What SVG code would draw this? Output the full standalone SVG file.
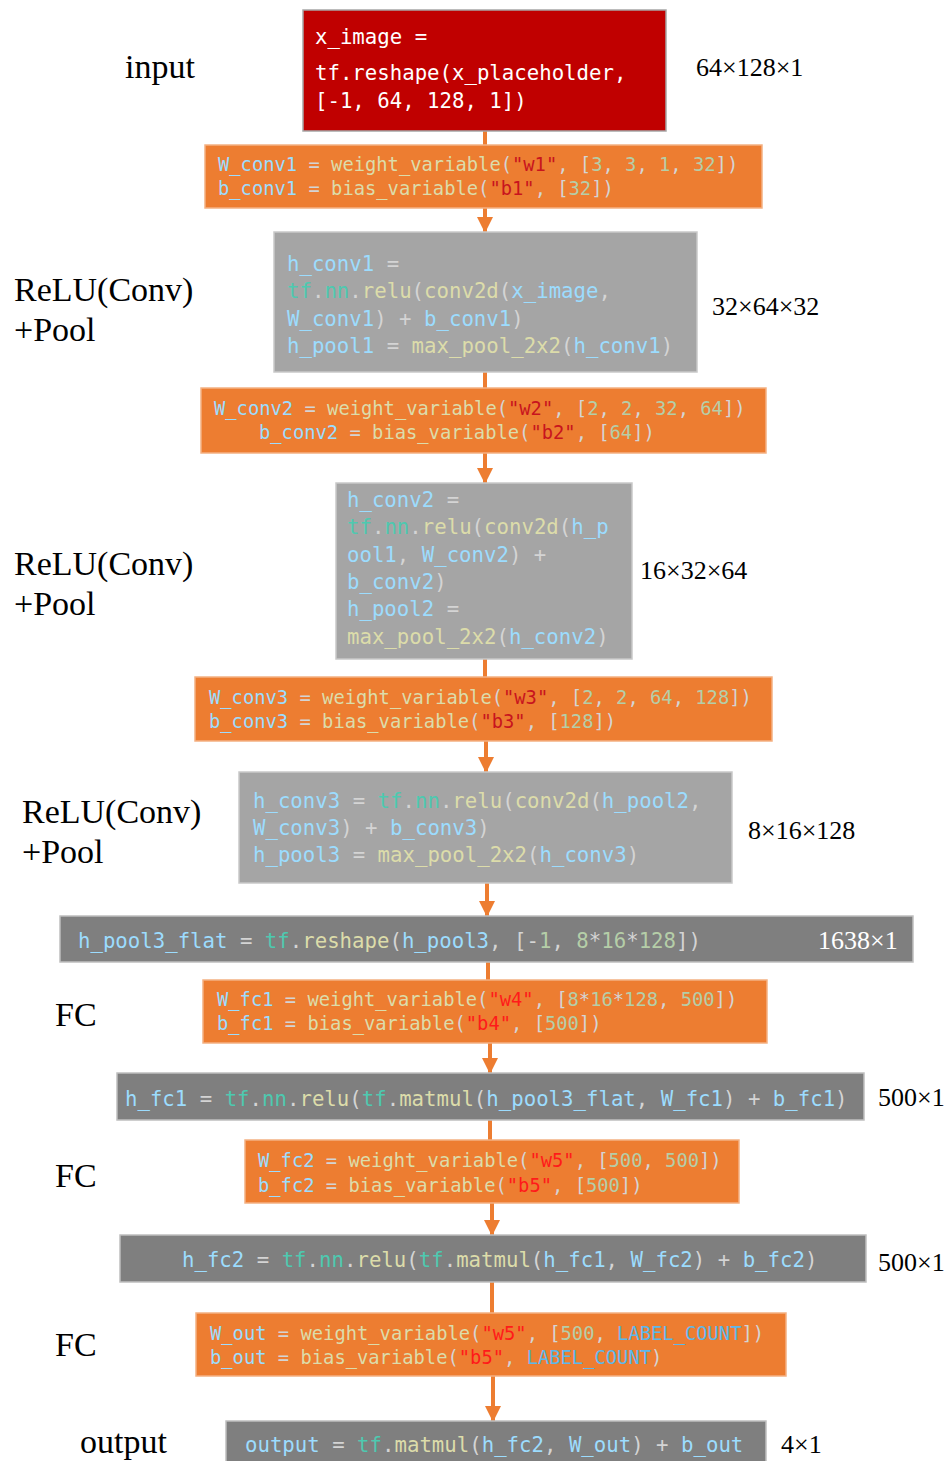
<svg xmlns="http://www.w3.org/2000/svg" width="947" height="1461" viewBox="0 0 947 1461">
<defs>
<marker id="arr" markerUnits="userSpaceOnUse" markerWidth="16" markerHeight="16" refX="15" refY="8" orient="auto" viewBox="0 0 16 16">
<path d="M0,0 L16,8 L0,16 z" fill="#ED7D31"/>
</marker>
<style>
.code{font-family:"DejaVu Sans Mono","Liberation Mono",monospace;white-space:pre}
.c19{font-size:18.8px}
.c21{font-size:20.7px}
.lbl{font-family:"Liberation Serif","Times New Roman",serif;font-size:34px;fill:#000}
.dim{font-family:"Liberation Serif","Times New Roman",serif;font-size:26px;fill:#000}
.red{fill:#C00000;stroke:#A6A6A6;stroke-width:1.5}
.org{fill:#ED7D31;stroke:#F4B183;stroke-width:1.5}
.lg{fill:#A5A5A5;stroke:#C9C9C9;stroke-width:1.5}
.dg{fill:#7F7F7F;stroke:#BFBFBF;stroke-width:1.5}
.v{fill:#9CDCFE}
.k{fill:#5CB8EC}
.f{fill:#DCDCAA}
.s{fill:#C8141E}
.s2{fill:#FF1A1A}
.n{fill:#B5CEA8}
.t{fill:#4EC9B0}
.p{fill:#D4D4D4}
.w{fill:#FFFFFF}
.conn line{stroke:#ED7D31;stroke-width:4}
</style>
</defs>
<rect width="947" height="1461" fill="#FFFFFF"/>

<g class="conn" id="connectors">
<line x1="485" y1="131" x2="485" y2="145"/>
<line x1="485" y1="208" x2="485" y2="232" marker-end="url(#arr)"/>
<line x1="485" y1="372" x2="485" y2="388"/>
<line x1="485" y1="453" x2="485" y2="483" marker-end="url(#arr)"/>
<line x1="485" y1="659" x2="485" y2="677"/>
<line x1="486" y1="741" x2="486" y2="772" marker-end="url(#arr)"/>
<line x1="487" y1="883" x2="487" y2="916" marker-end="url(#arr)"/>
<line x1="488" y1="962" x2="488" y2="980"/>
<line x1="490" y1="1043" x2="490" y2="1073" marker-end="url(#arr)"/>
<line x1="490" y1="1120" x2="490" y2="1140"/>
<line x1="492" y1="1203" x2="492" y2="1235" marker-end="url(#arr)"/>
<line x1="492" y1="1282" x2="492" y2="1313"/>
<line x1="493" y1="1376" x2="493" y2="1421" marker-end="url(#arr)"/>
</g>

<g id="input">
<rect class="red" x="303" y="10" width="363" height="121"/>
<text class="code c21 w" x="315" y="44">x_image =</text>
<text class="code c21 w" x="315" y="80">tf.reshape(x_placeholder,</text>
<text class="code c21 w" x="315" y="108">[-1, 64, 128, 1])</text>
</g>

<g id="w_conv1">
<rect class="org" x="205" y="145" width="557" height="63"/>
<text class="code c19" x="218" y="171"><tspan class="v">W_conv1</tspan><tspan class="p"> = </tspan><tspan class="f">weight_variable</tspan><tspan class="p">(</tspan><tspan class="s">"w1"</tspan><tspan class="p">, [</tspan><tspan class="n">3</tspan><tspan class="p">, </tspan><tspan class="n">3</tspan><tspan class="p">, </tspan><tspan class="n">1</tspan><tspan class="p">, </tspan><tspan class="n">32</tspan><tspan class="p">])</tspan></text>
<text class="code c19" x="218" y="195"><tspan class="v">b_conv1</tspan><tspan class="p"> = </tspan><tspan class="f">bias_variable</tspan><tspan class="p">(</tspan><tspan class="s">"b1"</tspan><tspan class="p">, [</tspan><tspan class="n">32</tspan><tspan class="p">])</tspan></text>
</g>

<g id="h_conv1">
<rect class="lg" x="274" y="232" width="423" height="140"/>
<text class="code c21" x="287" y="271"><tspan class="v">h_conv1</tspan><tspan class="p"> =</tspan></text>
<text class="code c21" x="287" y="298"><tspan class="t">tf</tspan><tspan class="p">.</tspan><tspan class="t">nn</tspan><tspan class="p">.</tspan><tspan class="f">relu</tspan><tspan class="p">(</tspan><tspan class="f">conv2d</tspan><tspan class="p">(</tspan><tspan class="v">x_image</tspan><tspan class="p">,</tspan></text>
<text class="code c21" x="287" y="326"><tspan class="v">W_conv1</tspan><tspan class="p">) + </tspan><tspan class="v">b_conv1</tspan><tspan class="p">)</tspan></text>
<text class="code c21" x="287" y="353"><tspan class="v">h_pool1</tspan><tspan class="p"> = </tspan><tspan class="f">max_pool_2x2</tspan><tspan class="p">(</tspan><tspan class="v">h_conv1</tspan><tspan class="p">)</tspan></text>
</g>

<g id="w_conv2">
<rect class="org" x="201" y="388" width="565" height="65"/>
<text class="code c19" x="214" y="415"><tspan class="v">W_conv2</tspan><tspan class="p"> = </tspan><tspan class="f">weight_variable</tspan><tspan class="p">(</tspan><tspan class="s">"w2"</tspan><tspan class="p">, [</tspan><tspan class="n">2</tspan><tspan class="p">, </tspan><tspan class="n">2</tspan><tspan class="p">, </tspan><tspan class="n">32</tspan><tspan class="p">, </tspan><tspan class="n">64</tspan><tspan class="p">])</tspan></text>
<text class="code c19" x="259" y="439"><tspan class="v">b_conv2</tspan><tspan class="p"> = </tspan><tspan class="f">bias_variable</tspan><tspan class="p">(</tspan><tspan class="s">"b2"</tspan><tspan class="p">, [</tspan><tspan class="n">64</tspan><tspan class="p">])</tspan></text>
</g>

<g id="h_conv2">
<rect class="lg" x="336" y="483" width="296" height="176"/>
<text class="code c21" x="347" y="507"><tspan class="v">h_conv2</tspan><tspan class="p"> =</tspan></text>
<text class="code c21" x="347" y="534"><tspan class="t">tf</tspan><tspan class="p">.</tspan><tspan class="t">nn</tspan><tspan class="p">.</tspan><tspan class="f">relu</tspan><tspan class="p">(</tspan><tspan class="f">conv2d</tspan><tspan class="p">(</tspan><tspan class="v">h_p</tspan></text>
<text class="code c21" x="347" y="562"><tspan class="v">ool1</tspan><tspan class="p">, </tspan><tspan class="v">W_conv2</tspan><tspan class="p">) +</tspan></text>
<text class="code c21" x="347" y="589"><tspan class="v">b_conv2</tspan><tspan class="p">)</tspan></text>
<text class="code c21" x="347" y="616"><tspan class="v">h_pool2</tspan><tspan class="p"> =</tspan></text>
<text class="code c21" x="347" y="644"><tspan class="f">max_pool_2x2</tspan><tspan class="p">(</tspan><tspan class="v">h_conv2</tspan><tspan class="p">)</tspan></text>
</g>

<g id="w_conv3">
<rect class="org" x="195" y="677" width="577" height="64"/>
<text class="code c19" x="209" y="704"><tspan class="v">W_conv3</tspan><tspan class="p"> = </tspan><tspan class="f">weight_variable</tspan><tspan class="p">(</tspan><tspan class="s">"w3"</tspan><tspan class="p">, [</tspan><tspan class="n">2</tspan><tspan class="p">, </tspan><tspan class="n">2</tspan><tspan class="p">, </tspan><tspan class="n">64</tspan><tspan class="p">, </tspan><tspan class="n">128</tspan><tspan class="p">])</tspan></text>
<text class="code c19" x="209" y="728"><tspan class="v">b_conv3</tspan><tspan class="p"> = </tspan><tspan class="f">bias_variable</tspan><tspan class="p">(</tspan><tspan class="s">"b3"</tspan><tspan class="p">, [</tspan><tspan class="n">128</tspan><tspan class="p">])</tspan></text>
</g>

<g id="h_conv3">
<rect class="lg" x="239" y="772" width="493" height="111"/>
<text class="code c21" x="253" y="808"><tspan class="v">h_conv3</tspan><tspan class="p"> = </tspan><tspan class="t">tf</tspan><tspan class="p">.</tspan><tspan class="t">nn</tspan><tspan class="p">.</tspan><tspan class="f">relu</tspan><tspan class="p">(</tspan><tspan class="f">conv2d</tspan><tspan class="p">(</tspan><tspan class="v">h_pool2</tspan><tspan class="p">,</tspan></text>
<text class="code c21" x="253" y="835"><tspan class="v">W_conv3</tspan><tspan class="p">) + </tspan><tspan class="v">b_conv3</tspan><tspan class="p">)</tspan></text>
<text class="code c21" x="253" y="862"><tspan class="v">h_pool3</tspan><tspan class="p"> = </tspan><tspan class="f">max_pool_2x2</tspan><tspan class="p">(</tspan><tspan class="v">h_conv3</tspan><tspan class="p">)</tspan></text>
</g>

<g id="h_pool3_flat">
<rect class="dg" x="60" y="916" width="853" height="46"/>
<text class="code c21" x="78" y="948"><tspan class="v">h_pool3_flat</tspan><tspan class="p"> = </tspan><tspan class="t">tf</tspan><tspan class="p">.</tspan><tspan class="f">reshape</tspan><tspan class="p">(</tspan><tspan class="v">h_pool3</tspan><tspan class="p">, [-</tspan><tspan class="n">1</tspan><tspan class="p">, </tspan><tspan class="n">8</tspan><tspan class="p">*</tspan><tspan class="n">16</tspan><tspan class="p">*</tspan><tspan class="n">128</tspan><tspan class="p">])</tspan></text>
<text class="dim w" x="818" y="949">1638×1</text>
</g>

<g id="w_fc1">
<rect class="org" x="203" y="980" width="564" height="63"/>
<text class="code c19" x="217" y="1006"><tspan class="v">W_fc1</tspan><tspan class="p"> = </tspan><tspan class="f">weight_variable</tspan><tspan class="p">(</tspan><tspan class="s2">"w4"</tspan><tspan class="p">, [</tspan><tspan class="n">8</tspan><tspan class="p">*</tspan><tspan class="n">16</tspan><tspan class="p">*</tspan><tspan class="n">128</tspan><tspan class="p">, </tspan><tspan class="n">500</tspan><tspan class="p">])</tspan></text>
<text class="code c19" x="217" y="1030"><tspan class="v">b_fc1</tspan><tspan class="p"> = </tspan><tspan class="f">bias_variable</tspan><tspan class="p">(</tspan><tspan class="s2">"b4"</tspan><tspan class="p">, [</tspan><tspan class="n">500</tspan><tspan class="p">])</tspan></text>
</g>

<g id="h_fc1">
<rect class="dg" x="117" y="1073" width="747" height="47"/>
<text class="code c21" x="125" y="1106"><tspan class="v">h_fc1</tspan><tspan class="p"> = </tspan><tspan class="t">tf</tspan><tspan class="p">.</tspan><tspan class="t">nn</tspan><tspan class="p">.</tspan><tspan class="f">relu</tspan><tspan class="p">(</tspan><tspan class="t">tf</tspan><tspan class="p">.</tspan><tspan class="f">matmul</tspan><tspan class="p">(</tspan><tspan class="v">h_pool3_flat</tspan><tspan class="p">, </tspan><tspan class="v">W_fc1</tspan><tspan class="p">) + </tspan><tspan class="v">b_fc1</tspan><tspan class="p">)</tspan></text>
</g>

<g id="w_fc2">
<rect class="org" x="245" y="1140" width="494" height="63"/>
<text class="code c19" x="258" y="1167"><tspan class="v">W_fc2</tspan><tspan class="p"> = </tspan><tspan class="f">weight_variable</tspan><tspan class="p">(</tspan><tspan class="s2">"w5"</tspan><tspan class="p">, [</tspan><tspan class="n">500</tspan><tspan class="p">, </tspan><tspan class="n">500</tspan><tspan class="p">])</tspan></text>
<text class="code c19" x="258" y="1192"><tspan class="v">b_fc2</tspan><tspan class="p"> = </tspan><tspan class="f">bias_variable</tspan><tspan class="p">(</tspan><tspan class="s2">"b5"</tspan><tspan class="p">, [</tspan><tspan class="n">500</tspan><tspan class="p">])</tspan></text>
</g>

<g id="h_fc2">
<rect class="dg" x="120" y="1235" width="746" height="47"/>
<text class="code c21" x="182" y="1267"><tspan class="v">h_fc2</tspan><tspan class="p"> = </tspan><tspan class="t">tf</tspan><tspan class="p">.</tspan><tspan class="t">nn</tspan><tspan class="p">.</tspan><tspan class="f">relu</tspan><tspan class="p">(</tspan><tspan class="t">tf</tspan><tspan class="p">.</tspan><tspan class="f">matmul</tspan><tspan class="p">(</tspan><tspan class="v">h_fc1</tspan><tspan class="p">, </tspan><tspan class="v">W_fc2</tspan><tspan class="p">) + </tspan><tspan class="v">b_fc2</tspan><tspan class="p">)</tspan></text>
</g>

<g id="w_out">
<rect class="org" x="196" y="1313" width="590" height="63"/>
<text class="code c19" x="210" y="1340"><tspan class="v">W_out</tspan><tspan class="p"> = </tspan><tspan class="f">weight_variable</tspan><tspan class="p">(</tspan><tspan class="s2">"w5"</tspan><tspan class="p">, [</tspan><tspan class="n">500</tspan><tspan class="p">, </tspan><tspan class="k">LABEL_COUNT</tspan><tspan class="p">])</tspan></text>
<text class="code c19" x="210" y="1364"><tspan class="v">b_out</tspan><tspan class="p"> = </tspan><tspan class="f">bias_variable</tspan><tspan class="p">(</tspan><tspan class="s2">"b5"</tspan><tspan class="p">, </tspan><tspan class="k">LABEL_COUNT</tspan><tspan class="p">)</tspan></text>
</g>

<g id="output">
<rect class="dg" x="226" y="1421" width="540" height="45"/>
<text class="code c21" x="245" y="1452"><tspan class="v">output</tspan><tspan class="p"> = </tspan><tspan class="t">tf</tspan><tspan class="p">.</tspan><tspan class="f">matmul</tspan><tspan class="p">(</tspan><tspan class="v">h_fc2</tspan><tspan class="p">, </tspan><tspan class="v">W_out</tspan><tspan class="p">) + </tspan><tspan class="v">b_out</tspan></text>
</g>

<g id="labels">
<text class="lbl" x="125" y="78">input</text>
<text class="lbl" x="14" y="301">ReLU(Conv)</text>
<text class="lbl" x="14" y="341">+Pool</text>
<text class="lbl" x="14" y="575">ReLU(Conv)</text>
<text class="lbl" x="14" y="615">+Pool</text>
<text class="lbl" x="22" y="823">ReLU(Conv)</text>
<text class="lbl" x="22" y="863">+Pool</text>
<text class="lbl" x="55" y="1026">FC</text>
<text class="lbl" x="55" y="1187">FC</text>
<text class="lbl" x="55" y="1356">FC</text>
<text class="lbl" x="80" y="1453">output</text>
</g>

<g id="dims">
<text class="dim" x="696" y="76">64×128×1</text>
<text class="dim" x="712" y="315">32×64×32</text>
<text class="dim" x="640" y="579">16×32×64</text>
<text class="dim" x="748" y="839">8×16×128</text>
<text class="dim" x="878" y="1106">500×1</text>
<text class="dim" x="878" y="1271">500×1</text>
<text class="dim" x="781" y="1453">4×1</text>
</g>
</svg>
